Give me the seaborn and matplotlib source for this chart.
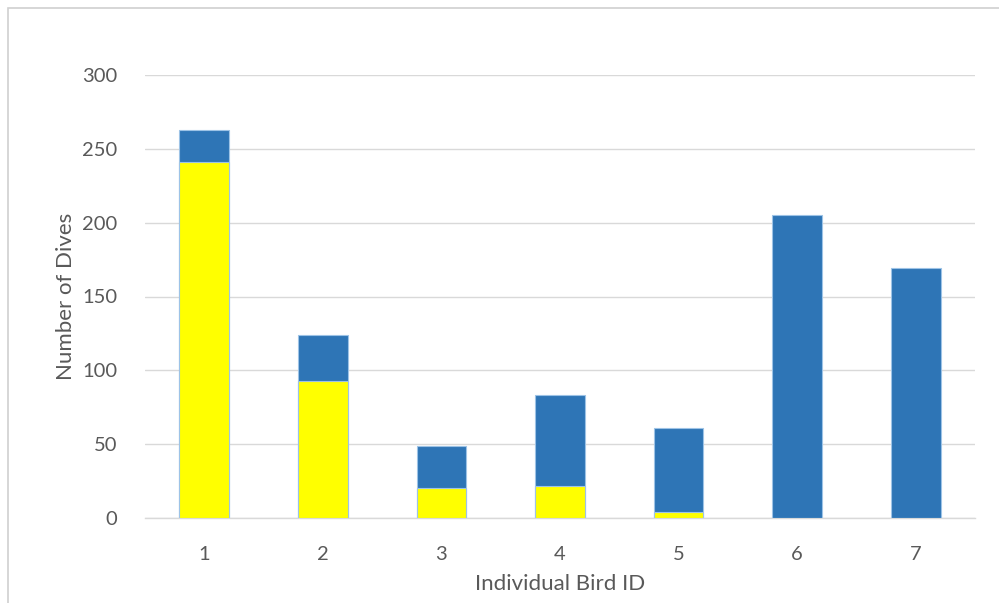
import numpy as np
import pandas as pd
import seaborn as sns
import matplotlib.pyplot as plt
from matplotlib.patches import Rectangle

# Dados
bird_ids = ["1", "2", "3", "4", "5", "6", "7"]
total_dives = [263, 124, 49, 83, 61, 205, 169]
yellow_dives = [241, 93, 20, 22, 4, 0, 0]

df = pd.DataFrame({"bird": bird_ids, "total": total_dives, "yellow": yellow_dives})

sns.set_theme(style="white")
plt.rcParams["font.family"] = ["Lato", "DejaVu Sans"]

fig = plt.figure(figsize=(9.99, 6.03), dpi=100)
ax = fig.add_axes([145 / 999, 1 - 518 / 603, 830 / 999, 443 / 603])

sns.barplot(data=df, x="bird", y="total", color="#2E75B6", width=0.42,
            edgecolor="#9DC3E6", linewidth=0.8, saturation=1, ax=ax, zorder=3)
sns.barplot(data=df, x="bird", y="yellow", color="#FFFF00", width=0.42,
            edgecolor="#9DC3E6", linewidth=0.8, saturation=1, ax=ax, zorder=4)

ax.set_ylim(0, 300)
ax.set_xlim(-0.5, 6.5)
ax.set_yticks(np.arange(0, 301, 50))
ax.yaxis.grid(True, color="#D9D9D9", linewidth=1, zorder=0)
ax.set_axisbelow(True)
for s in ["top", "right", "left"]:
    ax.spines[s].set_visible(False)
ax.spines["bottom"].set_color("#D9D9D9")
ax.spines["bottom"].set_linewidth(1)
ax.tick_params(axis="both", length=0, labelsize=14.5, labelcolor="#595959")
ax.tick_params(axis="x", pad=20)
ax.tick_params(axis="y", pad=20)
ax.set_xlabel("Individual Bird ID", fontsize=16, color="#595959", labelpad=8)
ax.set_ylabel("Number of Dives", fontsize=16, color="#595959", labelpad=4)

# moldura do gráfico
fig.patches.append(Rectangle((8 / 999, -0.1), 1.2, 1 - 8 / 603 + 0.1,
                             transform=fig.transFigure, fill=False,
                             edgecolor="#D0D0D0", linewidth=1.2))

fig.savefig("out.png", dpi=100)
